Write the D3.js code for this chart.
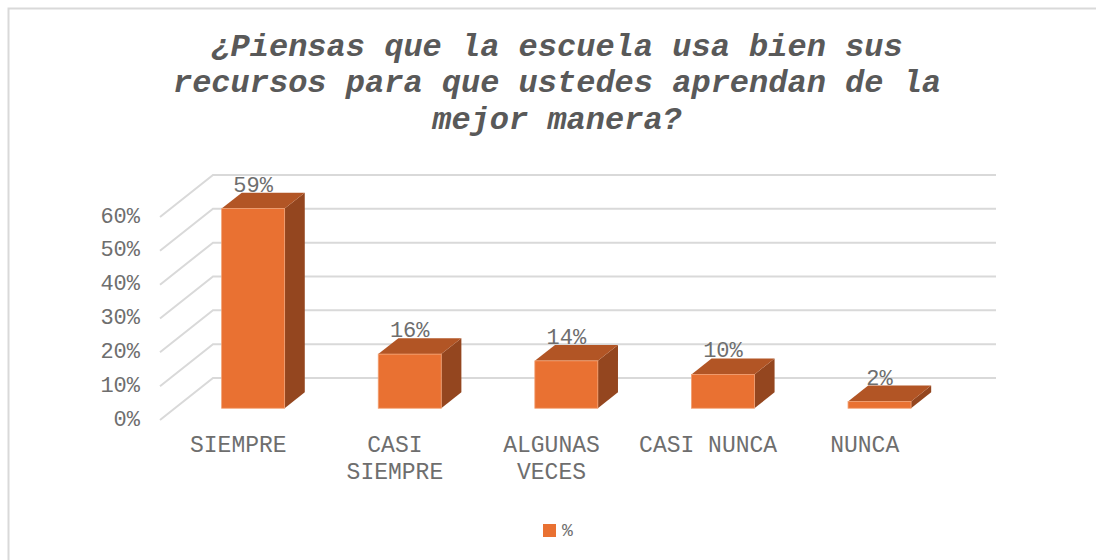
<!DOCTYPE html>
<html>
<head>
<meta charset="utf-8">
<script src="https://cdn.jsdelivr.net/npm/d3@7"></script>
<style>
  body { margin: 0; background: #fff; }
  text { font-family: "Liberation Mono", "Courier New", monospace; fill: #6e6e6e; }
  text.title { fill: #595959; }
</style>
</head>
<body>
<div id="chart"></div>
<script>
//Chart data
var categories = ["SIEMPRE", "CASI SIEMPRE", "ALGUNAS VECES", "CASI NUNCA", "NUNCA"];
var values = [59, 16, 14, 10, 2];
var ticks = [0, 10, 20, 30, 40, 50, 60];
var seriesName = "%";
var titleLines = ["¿Piensas que la escuela usa bien sus",
                  "recursos para que ustedes aprendan de la",
                  "mejor manera?"];

//Canvas
var W = 1096, H = 560;
var svg = d3.select("#chart").append("svg")
	.attr("width", W)
	.attr("height", H);

//Chart frame
svg.append("rect")
	.attr("x", 8.5).attr("y", 8.5)
	.attr("width", 1100).attr("height", 600)
	.attr("fill", "none")
	.attr("stroke", "#d9d9d9")
	.attr("stroke-width", 2);

//Title
svg.append("g").selectAll("text")
	.data(titleLines)
	.enter().append("text")
	.attr("class", "title")
	.attr("x", 557)
	.attr("y", function(d, i) { return 47 + i * 36.5; })
	.attr("text-anchor", "middle")
	.attr("dominant-baseline", "central")
	.style("font-size", "32px")
	.style("font-weight", "bold")
	.style("font-style", "italic")
	.text(function(d) { return d; });

//Scales (front plane), plus depth vector for the fake 3D
var x = d3.scaleBand().domain(categories).range([160, 943]);
var y = d3.scaleLinear().domain([0, 60]).range([420, 217]);
var depth = {dx: 53, dy: -42};
function proj(px, py, f) { return [px + depth.dx * f, py + depth.dy * f]; }
function pts(arr) { return arr.map(function(p) { return p.join(","); }).join(" "); }

//Back wall and side gridlines
var grid = svg.append("g").attr("class", "grid");
ticks.forEach(function(t) {
	grid.append("polyline")
		.attr("points", pts([proj(x.range()[0], y(t), 0),
		                     proj(x.range()[0], y(t), 1),
		                     proj(x.range()[1], y(t), 1)]))
		.attr("fill", "none")
		.attr("stroke", "#d9d9d9")
		.attr("stroke-width", 2);
});

//Y axis labels
svg.append("g").selectAll("text")
	.data(ticks)
	.enter().append("text")
	.attr("x", 140)
	.attr("y", function(d) { return y(d); })
	.attr("text-anchor", "end")
	.attr("dominant-baseline", "central")
	.style("font-size", "22px")
	.text(function(d) { return d + "%"; });

//Bars
var barW = 63, f1 = 0.28, f2 = 0.66;
var bars = svg.append("g").selectAll("g")
	.data(categories)
	.enter().append("g");

bars.each(function(d, i) {
	var g = d3.select(this),
		cx = x(d) + x.bandwidth() / 2,
		x0 = cx - barW / 2, x1 = cx + barW / 2,
		yt = y(values[i]), yb = y(0);
	//side face
	g.append("polygon")
		.attr("points", pts([proj(x1, yt, f1), proj(x1, yt, f2), proj(x1, yb, f2), proj(x1, yb, f1)]))
		.attr("fill", "#94461f");
	//top face
	g.append("polygon")
		.attr("points", pts([proj(x0, yt, f1), proj(x0, yt, f2), proj(x1, yt, f2), proj(x1, yt, f1)]))
		.attr("fill", "#b25525");
	//front face
	var p = proj(x0, yt, f1);
	g.append("rect")
		.attr("x", p[0]).attr("y", p[1])
		.attr("width", barW)
		.attr("height", yb - yt)
		.attr("fill", "#e97132")
		.attr("stroke", "#f2a072")
		.attr("stroke-width", 0.8);
	//value label
	var q = proj(cx, yt, f2);
	g.append("text")
		.attr("x", cx + depth.dx * f1)
		.attr("y", q[1] - 1)
		.attr("text-anchor", "middle")
		.style("font-size", "22px")
		.text(values[i] + "%");
});

//Category labels, wrapped
function wrap(s, maxChars) {
	var words = s.split(" "), lines = [], cur = "";
	words.forEach(function(w) {
		if (cur && (cur + " " + w).length > maxChars) { lines.push(cur); cur = w; }
		else { cur = cur ? cur + " " + w : w; }
	});
	lines.push(cur);
	return lines;
}

svg.append("g").selectAll("text")
	.data(categories)
	.enter().append("text")
	.attr("y", 446)
	.attr("text-anchor", "middle")
	.attr("dominant-baseline", "central")
	.style("font-size", "23px")
	.each(function(d) {
		var t = d3.select(this), cx = x(d) + x.bandwidth() / 2;
		wrap(d, 11).forEach(function(line, k) {
			t.append("tspan")
				.attr("x", cx)
				.attr("dy", k === 0 ? 0 : 27)
				.text(line);
		});
	});

//Legend
var legend = svg.append("g").attr("transform", "translate(543,524)");
legend.append("rect")
	.attr("width", 13).attr("height", 13)
	.attr("fill", "#e97132");
legend.append("text")
	.attr("x", 19).attr("y", 7)
	.attr("dominant-baseline", "central")
	.style("font-size", "18px")
	.text(seriesName);
</script>
</body>
</html>
